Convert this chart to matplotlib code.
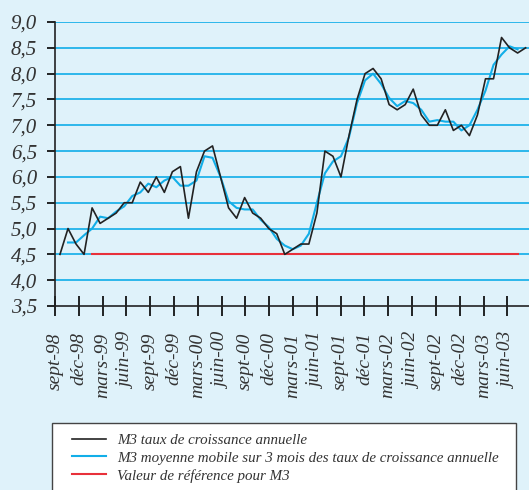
import numpy as np
import matplotlib
matplotlib.use("Agg")
import matplotlib.pyplot as plt
from matplotlib.patches import Rectangle
from matplotlib.lines import Line2D

# M3 annual growth rate, monthly, sept-98 .. juil-03
m3_growth = [4.5, 5.0, 4.7, 4.5, 5.4, 5.1, 5.2, 5.3, 5.5, 5.5, 5.9, 5.7,
             6.0, 5.7, 6.1, 6.2, 5.2, 6.1, 6.5, 6.6, 6.0, 5.4, 5.2, 5.6,
             5.3, 5.2, 5.0, 4.9, 4.5, 4.6, 4.7, 4.7, 5.3, 6.5, 6.4, 6.0,
             6.8, 7.5, 8.0, 8.1, 7.9, 7.4, 7.3, 7.4, 7.7, 7.2, 7.0, 7.0,
             7.3, 6.9, 7.0, 6.8, 7.2, 7.9, 7.9, 8.7, 8.5, 8.4, 8.5]

# 3-month centred moving average, oct-98 .. juin-03
m3_ma3 = [4.73, 4.73, 4.87, 5.00, 5.23, 5.20, 5.33, 5.43, 5.63, 5.70, 5.87,
          5.80, 5.93, 6.00, 5.83, 5.83, 5.93, 6.40, 6.37, 6.00, 5.53, 5.40,
          5.37, 5.37, 5.17, 5.03, 4.80, 4.67, 4.60, 4.67, 4.90, 5.50, 6.07,
          6.30, 6.40, 6.77, 7.43, 7.87, 8.00, 7.80, 7.53, 7.37, 7.47, 7.43,
          7.30, 7.07, 7.10, 7.07, 7.07, 6.90, 7.00, 7.30, 7.67, 8.17, 8.37,
          8.53, 8.47]

# reference value, janv-99 .. juin-03
ref_value = [4.5] * 54

tick_labels = ["sept-98", "déc-98", "mars-99", "juin-99", "sept-99", "déc-99",
               "mars-00", "juin-00", "sept-00", "déc-00", "mars-01", "juin-01",
               "sept-01", "déc-01", "mars-02", "juin-02", "sept-02", "déc-02",
               "mars-03", "juin-03"]

legend_labels = ["M3 taux de croissance annuelle",
                 "M3 moyenne mobile sur 3 mois des taux de croissance annuelle",
                 "Valeur de référence pour M3"]

BG = "#dff2fa"
GRID = "#1fb2ea"
BLACK = "#222222"
BLUE = "#12aee8"
RED = "#e8303a"

plt.rcParams["font.family"] = ["Liberation Serif", "DejaVu Serif"]
plt.rcParams["font.style"] = "italic"

fig = plt.figure(figsize=(5.29, 4.90), dpi=100, facecolor=BG)
ax = fig.add_axes([55 / 529, 1 - 306 / 490, 1 - 55 / 529, 284 / 490])
ax.set_facecolor(BG)

x_all = np.arange(len(m3_growth))
x_ma = np.arange(1, 1 + len(m3_ma3))
x_ref = np.arange(4, 4 + len(ref_value))

for v in np.arange(4.0, 9.01, 0.5):
    ax.axhline(v, color=GRID, lw=1.3, zorder=1)

ax.plot(x_ref, ref_value, color=RED, lw=1.5, zorder=2)
ax.plot(x_ma, m3_ma3, color=BLUE, lw=1.5, zorder=3)
ax.plot(x_all, m3_growth, color=BLACK, lw=1.2, zorder=4)

ax.set_xlim(-0.53, 58.42)
ax.set_ylim(3.5, 9.0)

yt = np.arange(3.5, 9.01, 0.5)
ax.set_yticks(yt)
ax.set_yticklabels([f"{v:.1f}".replace(".", ",") for v in yt],
                   fontsize=15, color="#333333")
ax.set_xticks(np.linspace(-0.62, 55.72, len(tick_labels)))
ax.set_xticklabels(tick_labels, rotation=90, fontsize=14, color="#333333")

ax.tick_params(axis="y", direction="out", length=6, width=1.2, pad=7)
ax.tick_params(axis="x", direction="inout", length=14, width=1.2, pad=12)
for s in ["top", "right"]:
    ax.spines[s].set_visible(False)
for s in ["left", "bottom"]:
    ax.spines[s].set_color(BLACK)
    ax.spines[s].set_linewidth(1.2)
ax.spines["bottom"].set_zorder(5)

# legend box, cut by the bottom of the figure
fig.patches.append(Rectangle((52 / 529, -0.02), 464 / 529, 1 - 423 / 490 + 0.02,
                             transform=fig.transFigure, facecolor="white",
                             edgecolor="#444444", lw=1.0, zorder=0))
handles = [Line2D([], [], color=BLACK, lw=1.2),
           Line2D([], [], color=BLUE, lw=1.5),
           Line2D([], [], color=RED, lw=1.5)]
fig.legend(handles, legend_labels, loc="upper left",
           bbox_to_anchor=(64 / 529, 1 - 426 / 490), frameon=False,
           fontsize=10.8, handlelength=2.3, handletextpad=0.75,
           labelspacing=0.28, borderpad=0, labelcolor="#333333")

fig.savefig("out.png", dpi=100, facecolor=BG)
